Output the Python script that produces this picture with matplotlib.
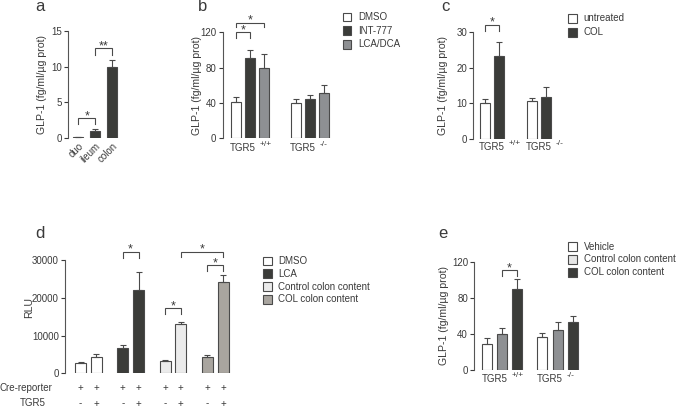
import matplotlib
matplotlib.use("Agg")
import numpy as np
import matplotlib.pyplot as plt
import matplotlib.transforms as mtransforms
from matplotlib.patches import Rectangle

W, H = 677, 408

# ── palette ──────────────────────────────────────────────────────────────
TEXT  = "#3a3a3a"
EDGE  = "#4a4a4a"
WHITE = "#ffffff"
DARK  = "#3b3c39"
MID   = "#8e9093"
LIGHT = "#ebebeb"
WARM  = "#a9a59f"

plt.rcParams.update({
    "font.family": ["Liberation Sans", "DejaVu Sans"],
    "font.size": 7,
    "text.color": TEXT,
    "axes.labelcolor": TEXT,
    "xtick.color": TEXT, "ytick.color": TEXT,
    "axes.edgecolor": "#555555",
    "axes.linewidth": 0.8,
})

YLAB = "GLP-1 (fg/ml/µg prot)"

# ── data ─────────────────────────────────────────────────────────────────
# a: tissue GLP-1
a_labels = ["duo", "ileum", "colon"]
a_mean   = [0.1, 1.0, 10.0]
a_err    = [0.0, 0.25, 1.0]

# b: TGR5 +/+ vs -/- with agonists
b_groups = ["+/+", "-/-"]
b_treat  = ["DMSO", "INT-777", "LCA/DCA"]
b_mean   = [[41, 91, 80], [40, 45, 51]]
b_err    = [[6, 9, 15], [4, 4, 9]]

# c: untreated vs COL
c_groups = ["+/+", "-/-"]
c_treat  = ["untreated", "COL"]
c_mean   = [[10.2, 23.2], [10.6, 11.8]]
c_err    = [[1.0, 4.0], [0.9, 2.8]]

# d: reporter assay (RLU), pairs of TGR5 - / +
d_treat  = ["DMSO", "LCA", "Control colon content", "COL colon content"]
d_mean   = [[2700, 4300], [6800, 22000], [3300, 13100], [4400, 24300]]
d_err    = [[300, 800], [600, 4900], [200, 500], [400, 1800]]
d_cre    = ["+", "+"]
d_tgr5   = ["-", "+"]

# e: colon content on TGR5 +/+ vs -/-
e_groups = ["+/+", "-/-"]
e_treat  = ["Vehicle", "Control colon content", "COL colon content"]
e_mean   = [[28, 40, 90], [36, 44, 53]]
e_err    = [[7, 7, 11], [5, 9, 7]]

# significance brackets: (bar i, bar j, top, bottom, label)
a_sig = [(0, 1, 2.8, 2.0, "*"), (1, 2, 12.6, 11.6, "**")]
b_sig = [(0, 1, 120, 114, "*"), (0, 2, 131, 125.5, "*")]
c_sig = [(0, 1, 31.9, 30.2, "*")]
d_sig = [(2, 3, 32200, 30600, "*"), (4, 5, 17200, 15600, "*"),
         (6, 7, 28600, 27100, "*"), (5, 7, 32200, 30800, "*")]
e_sig = [(1, 2, 111.4, 105, "*")]

fig = plt.figure(figsize=(W / 100, H / 100), dpi=100)


def fx(x):
    return x / W


def fy(y):
    return 1 - y / H


def make_ax(x_spine, y_top, y_zero, width, ymax, yticks):
    ax = fig.add_axes([fx(x_spine), fy(y_zero), width / W, (y_zero - y_top) / H])
    ax.set_xlim(0, width)
    ax.set_ylim(0, ymax)
    for s in ("top", "right", "bottom"):
        ax.spines[s].set_visible(False)
    ax.set_yticks(yticks)
    ax.tick_params(axis="y", length=3, width=0.8, pad=1.5, labelsize=7)
    ax.tick_params(axis="x", length=0)
    ax.set_xticks([])
    ax.patch.set_alpha(0)
    return ax


def draw_bars(ax, x, mean, err, colors, width):
    mean = np.asarray(mean, float)
    err = np.asarray(err, float)
    ax.bar(x, mean, width=width, color=colors, edgecolor=EDGE, linewidth=0.8, zorder=2)
    ax.errorbar(x, mean, yerr=[np.zeros_like(err), err], fmt="none", ecolor=EDGE,
                elinewidth=0.8, capsize=2.5, capthick=0.8, zorder=3)


def bracket(ax, x, sig):
    for i, j, top, bot, lab in sig:
        ax.plot([x[i], x[i], x[j], x[j]], [bot, top, top, bot], color=EDGE, lw=0.8,
                clip_on=False, solid_joinstyle="miter")
        ax.annotate(lab, xy=((x[i] + x[j]) / 2, top), xytext=(0, -1),
                    textcoords="offset pixels", ha="center", va="baseline",
                    fontsize=9, annotation_clip=False)


def legend(x, y0, dy, labels, colors):
    for k, (lab, col) in enumerate(zip(labels, colors)):
        y = y0 + k * dy
        fig.add_artist(Rectangle((fx(x - 4.2), fy(y + 4.2)), 8.4 / W, 8.4 / H,
                                 transform=fig.transFigure, facecolor=col,
                                 edgecolor=EDGE, linewidth=0.8))
        fig.text(fx(x + 11), fy(y), lab, ha="left", va="center", fontsize=7)


def genotype_labels(ax, x, groups, ntreat, y_px):
    tr = mtransforms.blended_transform_factory(ax.transData, fig.transFigure)
    for g, gname in enumerate(groups):
        xs = x[g * ntreat: g * ntreat + 2]
        cx = np.mean(xs)
        ax.text(cx, fy(y_px), "TGR5", transform=tr, ha="center", va="center", fontsize=7)
        ax.text(cx + 17, fy(y_px - 3.5), gname, transform=tr, ha="left", va="center",
                fontsize=6)


def ylabel(x, y_top, y_zero, text):
    fig.text(fx(x), fy((y_top + y_zero) / 2), text, rotation=90, ha="center",
             va="center", fontsize=7.6)


# ── panel a ──────────────────────────────────────────────────────────────
ax = make_ax(68.3, 31, 138, 55, 15, [0, 5, 10, 15])
xa = 10 + 17 * np.arange(len(a_labels))
draw_bars(ax, xa, a_mean, a_err, [DARK] * 3, 10)
bracket(ax, xa, a_sig)
ax.set_xticks(xa)
ax.set_xticklabels(a_labels, rotation=45, ha="right", rotation_mode="anchor", fontsize=7)
ax.tick_params(axis="x", pad=2)
ylabel(41.7, 31, 138, YLAB)

# ── panel b ──────────────────────────────────────────────────────────────
ax = make_ax(222.7, 32.3, 138.3, 110, 120, [0, 40, 80, 120])
xb = np.array([13 + 60 * g + 14.2 * i for g in range(len(b_groups)) for i in range(len(b_treat))])
b_cols = [WHITE, DARK, MID]
draw_bars(ax, xb, np.ravel(b_mean), np.ravel(b_err), b_cols * 2, 10)
bracket(ax, xb, b_sig)
genotype_labels(ax, xb, b_groups, len(b_treat), 148.3)
ylabel(196.7, 32.3, 138.3, YLAB)
legend(347.2, 16.7, 13.8, b_treat, b_cols)

# ── panel c ──────────────────────────────────────────────────────────────
ax = make_ax(473.3, 31.7, 139.3, 80, 30, [0, 10, 20, 30])
xc = np.array([11.7 + 47.3 * g + 13.5 * i for g in range(len(c_groups)) for i in range(len(c_treat))])
c_cols = [WHITE, DARK]
draw_bars(ax, xc, np.ravel(c_mean), np.ravel(c_err), c_cols * 2, 10)
bracket(ax, xc, c_sig)
genotype_labels(ax, xc, c_groups, len(c_treat), 147.3)
ylabel(443, 31.7, 139.3, YLAB)
legend(572.5, 18.3, 14, c_treat, c_cols)

# ── panel d ──────────────────────────────────────────────────────────────
ax = make_ax(65, 260, 373.3, 170, 30000, [0, 10000, 20000, 30000])
xd = np.array([15.5 + 42.3 * g + 15.7 * i for g in range(len(d_treat)) for i in range(2)])
d_cols = [WHITE, DARK, LIGHT, WARM]
draw_bars(ax, xd, np.ravel(d_mean), np.ravel(d_err), np.repeat(d_cols, 2), 11)
bracket(ax, xd, d_sig)
tr = mtransforms.blended_transform_factory(ax.transData, fig.transFigure)
for k, xv in enumerate(xd):
    ax.text(xv, fy(388), d_cre[k % 2], transform=tr, ha="center", va="center", fontsize=7)
    ax.text(xv, fy(403.5), d_tgr5[k % 2], transform=tr, ha="center", va="center", fontsize=7)
fig.text(fx(52.7), fy(388), "Cre-reporter", ha="right", va="center", fontsize=7)
fig.text(fx(33), fy(403.5), "TGR5", ha="center", va="center", fontsize=7)
fig.text(fx(29.3), fy(308), "RLU", rotation=90, ha="center", va="center", fontsize=7.6)
legend(267.5, 260.7, 12.9, d_treat, d_cols)

# ── panel e ──────────────────────────────────────────────────────────────
ax = make_ax(474.3, 262.3, 369.5, 110, 120, [0, 40, 80, 120])
xe = np.array([12.5 + 55.6 * g + 15.2 * i for g in range(len(e_groups)) for i in range(len(e_treat))])
e_cols = [WHITE, MID, DARK]
draw_bars(ax, xe, np.ravel(e_mean), np.ravel(e_err), e_cols * 2, 10)
bracket(ax, xe, e_sig)
genotype_labels(ax, xe, e_groups, len(e_treat), 379)
ylabel(444, 262.3, 369.5, YLAB)
legend(572.5, 246.7, 12.8, e_treat, [WHITE, "#e6e6e6", DARK])

# ── panel letters ────────────────────────────────────────────────────────
for lab, x, y in [("a", 40, 11), ("b", 203, 11), ("c", 445, 10.7),
                  ("d", 40, 238.3), ("e", 443.3, 238.3)]:
    fig.text(fx(x), fy(y), lab, ha="center", va="baseline", fontsize=12)

fig.savefig("out.png", dpi=100, facecolor="white")
